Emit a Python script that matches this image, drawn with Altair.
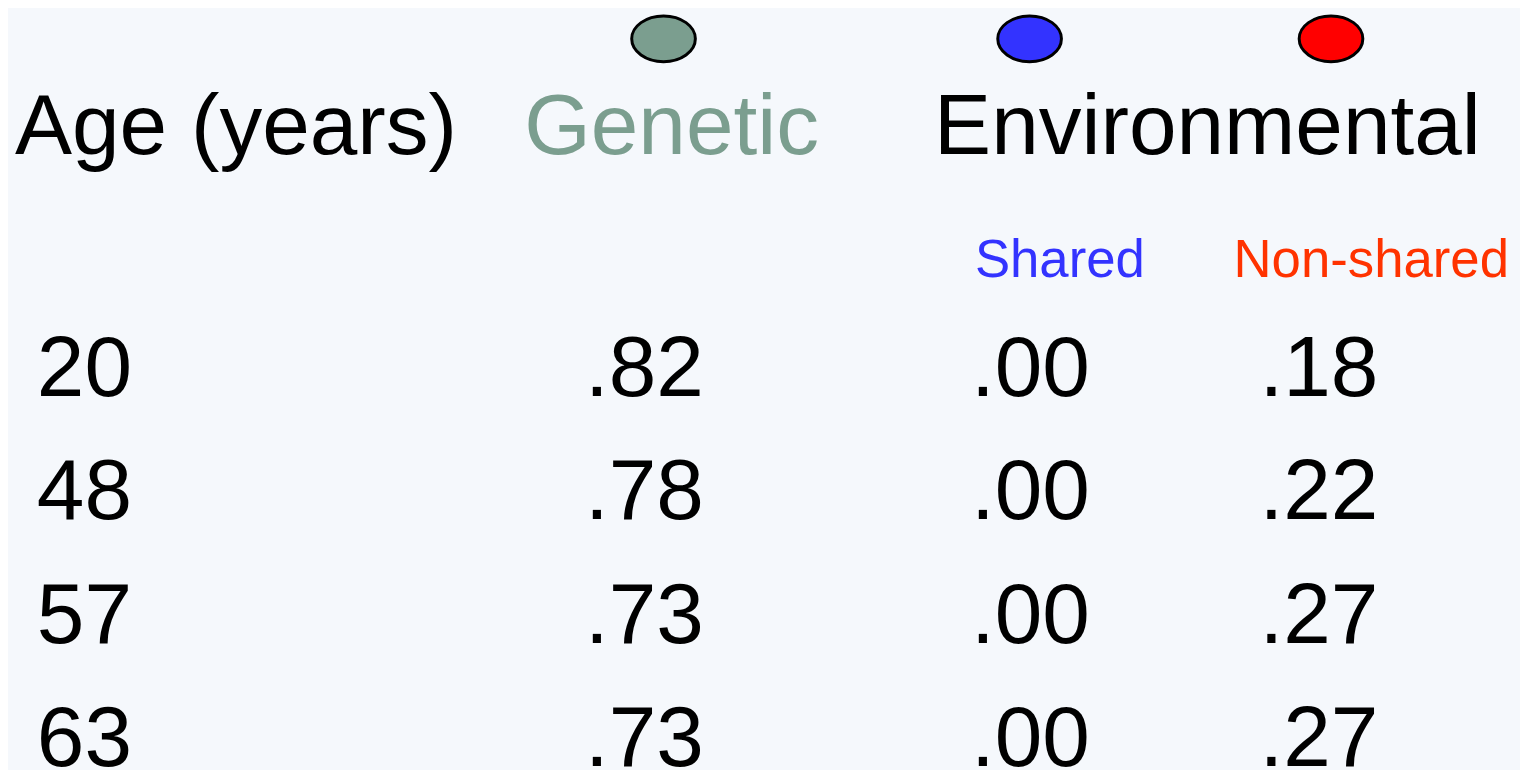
import altair as alt
import pandas as pd

# ---- data ----
ages = ["20", "48", "57", "63"]
genetic = [".82", ".78", ".73", ".73"]
shared = [".00", ".00", ".00", ".00"]
nonshared = [".18", ".22", ".27", ".27"]

header_labels = ["Age (years)", "Genetic", "Environmental"]
header_cols = ["age", "genetic", "env"]
sub_labels = ["Shared", "Non-shared"]
sub_cols = ["shared", "nonshared"]

# ---- colours / layout (styles) ----
GEN_COL = "#7B9E8F"
BLUE = "#3333FF"
RED = "#FF0000"
SUB_RED = "#FF3300"
BG = "#F5F8FC"
FONT = "Liberation Sans"

W, H = 1520, 762
col_domain = ["age", "num_age", "genetic", "num_gen", "dg", "env", "num_sh", "shared", "ds", "nonshared", "num_ns", "dn"]
col_range = [7, 29, 519, 580, 659, 931, 968, 972, 1027, 1232, 1258, 1330]
row_domain = ["dot", "head", "sub", "r0", "r1", "r2", "r3"]
row_range = [29, 145, 268, 388, 512, 636, 760]

xs = alt.Scale(domain=list(range(len(col_domain))), range=col_range)
ys = alt.Scale(domain=list(range(len(row_domain))), range=row_range)


def place(df):
    df = df.copy()
    df["ci"] = [col_domain.index(c) for c in df["col"]]
    df["ri"] = [row_domain.index(r) for r in df["row"]]
    return df


head_df = place(pd.DataFrame({"col": header_cols, "row": "head", "label": header_labels,
                              "color": ["#000000", GEN_COL, "#000000"]}))
sub_df = place(pd.DataFrame({"col": sub_cols, "row": "sub", "label": sub_labels,
                             "color": [BLUE, SUB_RED]}))
dot_df = place(pd.DataFrame({"col": ["dg", "ds", "dn"], "row": "dot", "fill": [GEN_COL, BLUE, RED]}))

rows = []
for i in range(len(ages)):
    for c, vals in zip(["num_age", "num_gen", "num_sh", "num_ns"], [ages, genetic, shared, nonshared]):
        rows.append({"col": c, "row": f"r{i}", "label": vals[i]})
num_df = place(pd.DataFrame(rows))

X = alt.X("ci:Q", scale=xs, axis=None)
Y = alt.Y("ri:Q", scale=ys, axis=None)


def txt(df, size):
    return alt.Chart(df).mark_text(align="left", baseline="alphabetic", font=FONT, fontSize=size).encode(
        x=X, y=Y, text="label:N",
    )


head = txt(head_df, 86).encode(color=alt.Color("color:N", scale=None))
sub = txt(sub_df, 53).encode(color=alt.Color("color:N", scale=None))
nums = txt(num_df, 86).encode(color=alt.value("#000000"))

ellipse = "M -1 0 A 1 0.72 0 1 1 1 0 A 1 0.72 0 1 1 -1 0 Z"
dots = alt.Chart(dot_df).mark_point(shape=ellipse, filled=True, stroke="#000000", strokeWidth=3,
                                    opacity=1, size=4096).encode(
    x=X, y=Y,
    fill=alt.Fill("fill:N", scale=None),
)

chart = alt.layer(dots, head, sub, nums).properties(
    width=W, height=H, autosize=alt.AutoSizeParams(type="none"), padding=0, background=BG
).configure_view(stroke=None)

chart.save("out.html", embed_options={"renderer": "svg", "actions": False})
